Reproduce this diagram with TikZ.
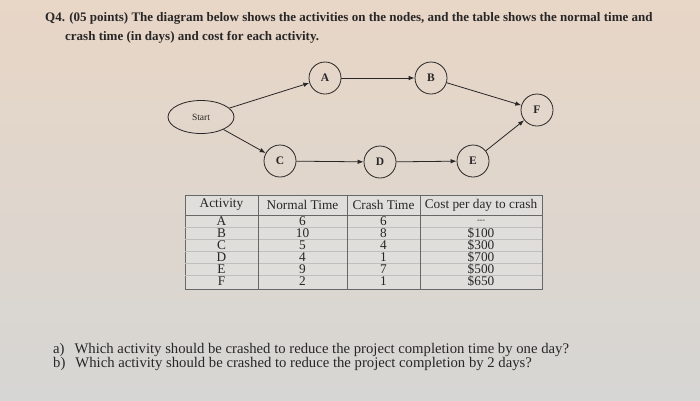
\documentclass[tikz,border=0pt]{standalone}
\usepackage{fontspec}
\setmainfont{Liberation Serif}
\usetikzlibrary{arrows.meta,shapes.geometric}
\definecolor{bgtop}{RGB}{232,214,198}
\definecolor{bgbot}{RGB}{214,214,212}
\definecolor{ink}{RGB}{40,38,38}
\definecolor{tablebg}{RGB}{224,222,218}
\begin{document}
\begin{tikzpicture}[x=1pt,y=-1pt,
  every node/.style={text=ink, inner sep=0pt},
  act/.style={circle, draw=ink, line width=0.8pt, minimum size=32pt, font=\fontsize{11.5}{12}\selectfont\bfseries},
  startnode/.style={ellipse, draw=ink, line width=0.8pt, minimum width=66pt, minimum height=33pt, font=\fontsize{9.5}{10}\selectfont},
  link/.style={draw=ink, line width=0.8pt, -{Latex[length=6pt,width=4.5pt]}},
  title/.style={anchor=base west, font=\fontsize{13}{14}\selectfont\bfseries},
  question/.style={anchor=base west, font=\fontsize{14.7}{16}\selectfont},
  cell/.style={font=\fontsize{13.3}{13}\selectfont},
  grid/.style={draw=ink!70, line width=0.5pt}]
\useasboundingbox (0,0) rectangle (700,400);
\shade[top color=bgtop, bottom color=bgbot] (0,0) rectangle (700,400);

% title
\node[title] (t1) at (45,21) {Q4. (05 points) The diagram below shows the activities on the nodes, and the table shows the normal time and};
\node[title] (t2) at (65,40) {crash time (in days) and cost for each activity.};

% network
\node[startnode] (start) at (201,117) {Start};
\node[act] (A) at (325,78) {A};
\node[act] (B) at (431,78) {B};
\node[act] (F) at (537,110) {F};
\node[act] (C) at (280,161) {C};
\node[act] (D) at (380,162) {D};
\node[act] (E) at (473,161) {E};
\draw[link] (start) -- (A);
\draw[link] (A) -- (B);
\draw[link] (B) -- (F);
\draw[link] (start) -- (C);
\draw[link] (C) -- (D);
\draw[link] (D) -- (E);
\draw[link] (E) -- (F);

% table
\fill[tablebg] (185,195) rectangle (542,289);
\draw[grid] (185,195) rectangle (542,289);
\foreach \y in {227,239,251,263,275} \draw[grid, draw=ink!30] (185,\y) -- (542,\y);
\draw[grid] (185,215) -- (542,215);
\foreach \x in {258,347,420} \draw[grid] (\x,195) -- (\x,289);

\node[cell] (h1) at (221.5,205) {Activity};
\node[cell] (h2) at (302.5,205) {Normal Time};
\node[cell] (h3) at (383.5,205) {Crash Time};
\node[cell] (h4) at (481,205) {Cost per day to crash};

\foreach \n/\a/\b/\c/\d [count=\i] in {1/A/6/6/{\fontsize{8}{9}\selectfont -{}-{}-},2/B/10/8/\$100,3/C/5/4/\$300,4/D/4/1/\$700,5/E/9/7/\$500,6/F/2/1/\$650}{
  \pgfmathsetmacro{\yy}{209+12*\i}
  \node[cell] (r\n a) at (221.5,\yy) {\a};
  \node[cell] (r\n b) at (302.5,\yy) {\b};
  \node[cell] (r\n c) at (383.5,\yy) {\c};
  \node[cell] (r\n d) at (481,\yy) {\d};
}

% questions
\node[question] (qa) at (53,353) {a)\hspace{10pt}Which activity should be crashed to reduce the project completion time by one day?};
\node[question] (qb) at (53,367) {b)\hspace{10pt}Which activity should be crashed to reduce the project completion by 2 days?};
\end{tikzpicture}
\end{document}
